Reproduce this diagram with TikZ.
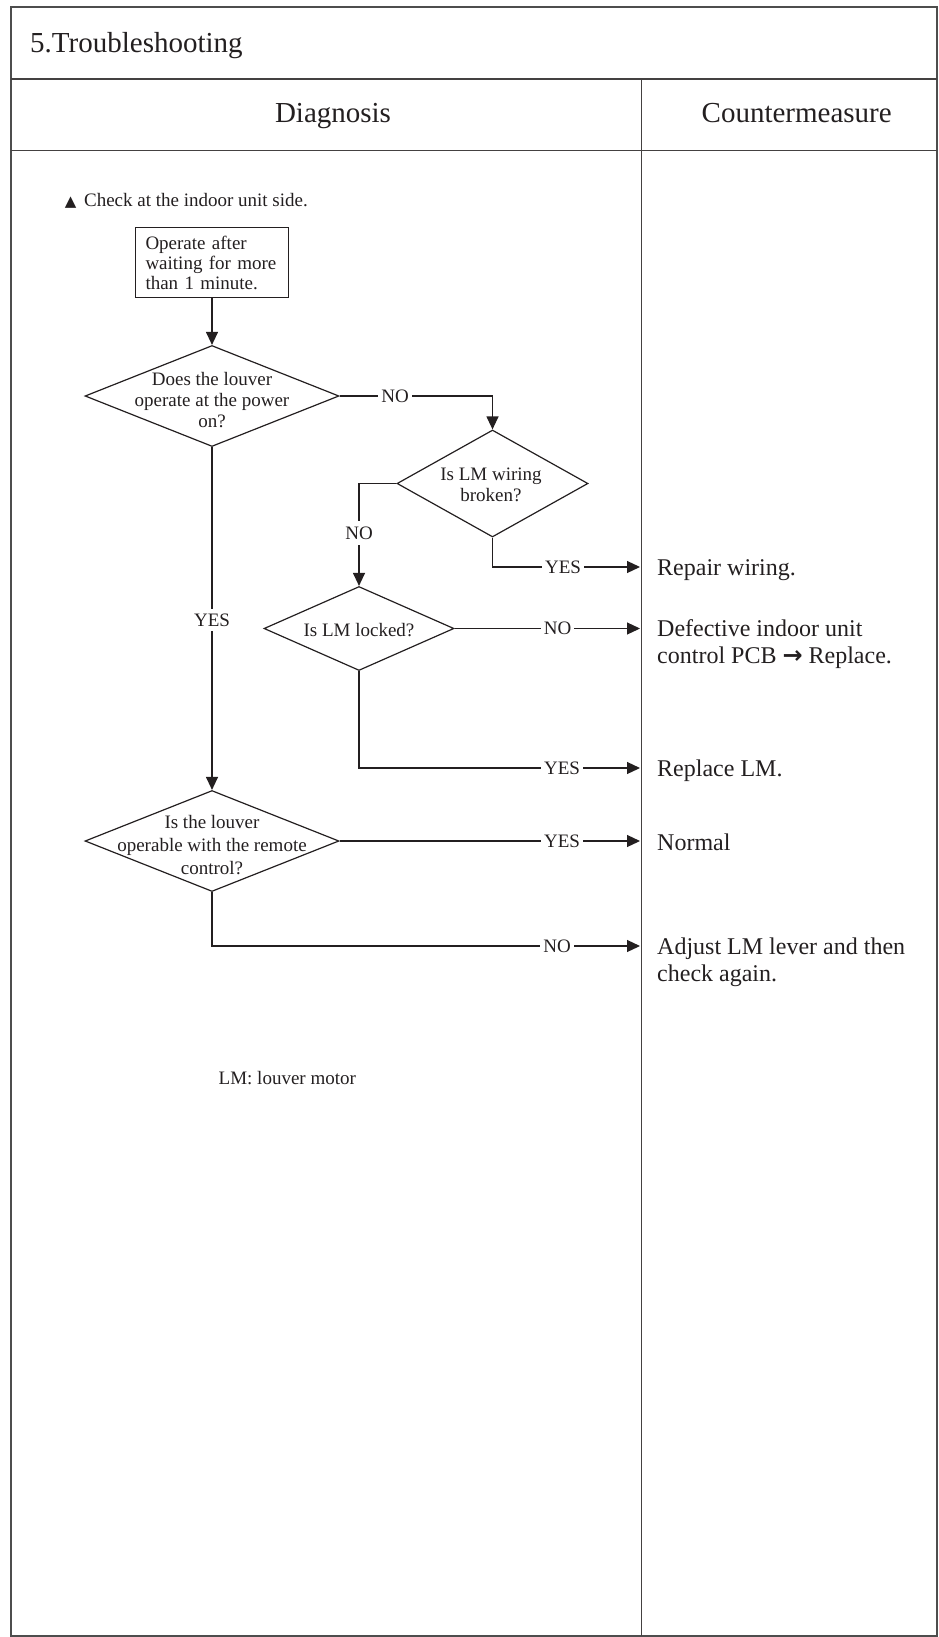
\documentclass[tikz,border=0pt]{standalone}
\usepackage{fontspec}
\setmainfont{Liberation Serif}
\newfontfamily\symfont{DejaVu Sans}
\usetikzlibrary{arrows.meta,shapes.geometric}
\definecolor{ink}{HTML}{231F20}
\definecolor{framec}{HTML}{4D4D4D}
\begin{document}
\begin{tikzpicture}[x=1pt,y=-1pt,
  every node/.style={text=ink},
  frameline/.style={draw=framec, line width=1.6pt},
  gridline/.style={draw=ink!85, line width=1.2pt},
  flow/.style={draw=ink, line width=1.2pt},
  arr/.style={flow, -{Triangle[length=13pt,width=12pt]}},
  dia/.style={diamond, draw=ink, line width=1.2pt, inner sep=0pt},
  small/.style={font=\fontsize{19pt}{21pt}\selectfont},
  lbl/.style={small, fill=white, inner xsep=3pt, inner ysep=1pt},
  lblv/.style={small, fill=white, inner xsep=3pt, inner ysep=6pt},
  big/.style={font=\fontsize{29pt}{32pt}\selectfont},
  res/.style={font=\fontsize{24pt}{27.7pt}\selectfont, anchor=base west, inner sep=0pt},
]
\useasboundingbox (0,0) rectangle (938,1637);

% table frame
\draw[frameline] (11,7) rectangle (937,1636);
\draw[gridline] (11,79) -- (937,79);
\draw[gridline] (11,150.5) -- (937,150.5);
\draw[gridline] (641.5,79) -- (641.5,1636);

% headers
\node[big, anchor=base west, inner sep=0pt] (title) at (30,52.7) {5.Troubleshooting};
\node[big, anchor=base, inner sep=0pt] (hdiag) at (333,123) {Diagnosis};
\node[big, anchor=base, inner sep=0pt] (hcm) at (796.7,123) {Countermeasure};

% note
\node[small, anchor=base west, inner sep=0pt] (note) at (64.6,206.5)
  {{\symfont\fontsize{15pt}{15pt}\selectfont ▲}\hspace{3pt} Check at the indoor unit side.};

% flow nodes
\node[draw=ink, line width=1.2pt, font=\fontsize{19pt}{20pt}\selectfont,
      text width=133pt, align=left, inner xsep=10pt, inner ysep=0pt,
      minimum height=70pt] (start) at (212,262.7)
  {Operate after\\waiting for more\\than 1 minute.};

\node[dia, minimum width=254pt, minimum height=101pt] (d1) at (212,396) {};
\node[small, align=center, inner sep=0pt] (d1t) at (212,400.5)
  {Does the louver\\operate at the power\\on?};

\node[dia, minimum width=191pt, minimum height=107pt] (d2) at (492.5,483.5) {};
\node[small, align=center, inner sep=0pt] (d2t) at (491,484.5)
  {Is LM wiring\\broken?};

\node[dia, minimum width=190pt, minimum height=84pt] (d3) at (359,628.5) {};
\node[small, inner sep=0pt] (d3t) at (359,630) {Is LM locked?};

\node[dia, minimum width=254pt, minimum height=101pt] (d4) at (212,841) {};
\node[font=\fontsize{19pt}{23pt}\selectfont, align=center, inner sep=0pt] (d4t) at (212,845)
  {Is the louver\\operable with the remote\\control?};

% arrow tips at the column divider
\coordinate (tip1) at (640,567);
\coordinate (tip2) at (640,628.5);
\coordinate (tip3) at (640,768);
\coordinate (tip4) at (640,841);
\coordinate (tip5) at (640,946);

% connectors
\draw[arr] (start.south) -- (d1.north);
\draw[arr] (d1.east) -| (d2.north);
\draw[arr] (d2.west) -| (d3.north);
\draw[arr] (d2.south) |- (tip1);
\draw[arr] (d3.east) -- (tip2);
\draw[arr] (d3.south) |- (tip3);
\draw[arr] (d1.south) -- (d4.north);
\draw[arr] (d4.east) -- (tip4);
\draw[arr] (d4.south) |- (tip5);

% connector labels
\node[lbl] (lno1) at (395,396) {NO};
\node[lblv] (lno2) at (359,533) {NO};
\node[lbl] (lyes1) at (563,567) {YES};
\node[lbl] (lno3) at (557.5,628.5) {NO};
\node[lblv, inner ysep=5pt] (lyes0) at (212,620) {YES};
\node[lbl] (lyes2) at (562,768) {YES};
\node[lbl] (lyes3) at (562,841) {YES};
\node[lbl] (lno4) at (557,946) {NO};

% countermeasures
\node[res] (r1) at (657,575) {Repair wiring.};
\node[res] (r2) at (657,636)
  {\vtop{\hbox{Defective indoor unit}\hbox{control PCB {\symfont\bfseries →} Replace.}}};
\node[res] (r3) at (657,776) {Replace LM.};
\node[res] (r4) at (657,850) {Normal};
\node[res] (r5) at (657,954)
  {\vtop{\hbox{Adjust LM lever and then}\hbox{check again.}}};

% footnote
\node[small, anchor=base west, inner sep=0pt] (lm) at (218.5,1084.5) {LM: louver motor};
\end{tikzpicture}
\end{document}
